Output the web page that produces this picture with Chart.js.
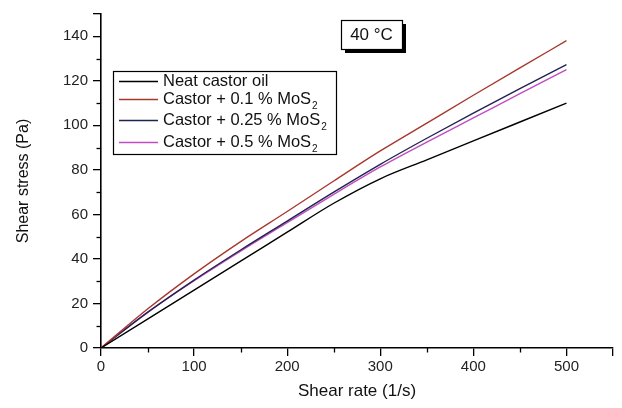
<!DOCTYPE html>
<html><head><meta charset="utf-8">
<script src="https://cdn.jsdelivr.net/npm/chart.js@4/dist/chart.umd.min.js"></script>
<style>html,body{margin:0;padding:0;background:#fff}#wrap{width:622px;height:408px}</style>
</head><body><div id="wrap"><canvas id="c" width="622" height="408"></canvas></div>
<script>
// ---- data ----
const shearRate = [0, 50, 100, 150, 200, 250, 300, 350, 400, 450, 500];
const neatCastor = [0, 13, 26, 39, 52, 65, 76, 84.5, 93, 101.5, 110];
const castor01 = [0, 17.5, 33.3, 47.8, 61.3, 75, 88.5, 101, 113.5, 125.8, 138];
const castor025 = [0, 16, 30.5, 44, 57, 70, 82.5, 94.2, 105.5, 116.5, 127.3];
const castor05 = [0, 16, 30.2, 43.5, 56.3, 69, 81.3, 92.5, 103.3, 114.2, 125];
const seriesNames = ['Neat castor oil', 'Castor + 0.1 % MoS', 'Castor + 0.25 % MoS', 'Castor + 0.5 % MoS'];
const seriesSubs = ['', '2', '2', '2'];
const seriesColors = ['#000000', '#a8382e', '#22224e', '#c04cc4'];
const xTickLabels = [0, 100, 200, 300, 400, 500];
const yTickLabels = [0, 20, 40, 60, 80, 100, 120, 140];
const xTitle = 'Shear rate (1/s)';
const yTitle = 'Shear stress (Pa)';
const tempLabel = '40 °C';

const allSeries = [neatCastor, castor01, castor025, castor05];
const FONT = '"Liberation Sans", Arial, sans-serif';

const datasets = allSeries.map((vals, i) => ({
  label: seriesNames[i] + seriesSubs[i],
  data: shearRate.map((x, j) => ({x: x, y: vals[j]})),
  borderColor: seriesColors[i],
  backgroundColor: seriesColors[i],
  borderWidth: 1.4,
  pointRadius: 0,
  cubicInterpolationMode: 'monotone',
  fill: false
}));

const extras = {
  id: 'extras',
  afterDraw(chart) {
    const ctx = chart.ctx;
    const xs = chart.scales.x, ys = chart.scales.y;
    const ca = chart.chartArea;
    ctx.save();
    // minor ticks
    ctx.strokeStyle = '#000';
    ctx.lineWidth = 1.3;
    for (let v = 10; v < 150; v += 20) {
      const py = Math.round(ys.getPixelForValue(v)) + 0.5;
      ctx.beginPath(); ctx.moveTo(ca.left - 4.5, py); ctx.lineTo(ca.left, py); ctx.stroke();
    }
    for (let v = 50; v < 550; v += 100) {
      const px = Math.round(xs.getPixelForValue(v)) + 0.5;
      ctx.beginPath(); ctx.moveTo(px, ca.bottom); ctx.lineTo(px, ca.bottom + 4.5); ctx.stroke();
    }
    // legend box
    const lx = ca.left + 12, ly = ca.top + 57, lw = 223, lh = 83;
    ctx.fillStyle = '#fff';
    ctx.fillRect(lx, ly, lw, lh);
    ctx.strokeStyle = '#000';
    ctx.lineWidth = 1.2;
    ctx.strokeRect(lx + 0.5, ly + 0.5, lw, lh);
    const rowOff = [10, 28, 49, 71];
    for (let i = 0; i < seriesNames.length; i++) {
      const ry = ly + rowOff[i];
      ctx.strokeStyle = seriesColors[i];
      ctx.lineWidth = 1.5;
      ctx.beginPath(); ctx.moveTo(lx + 6, ry + 0.5); ctx.lineTo(lx + 45, ry + 0.5); ctx.stroke();
      ctx.fillStyle = '#111';
      ctx.font = '16.5px ' + FONT;
      ctx.textBaseline = 'middle';
      ctx.textAlign = 'left';
      ctx.fillText(seriesNames[i], lx + 50, ry);
      if (seriesSubs[i]) {
        const w = ctx.measureText(seriesNames[i]).width;
        ctx.font = '10px ' + FONT;
        ctx.fillText(seriesSubs[i], lx + 50 + w + 1, ry + 7);
      }
    }
    // temperature box
    const tx = 341, ty = 20, tw = 61, th = 29;
    ctx.fillStyle = '#000';
    ctx.fillRect(tx + 4, ty + 4, tw, th);
    ctx.fillStyle = '#fff';
    ctx.fillRect(tx, ty, tw, th);
    ctx.strokeStyle = '#000';
    ctx.lineWidth = 1.2;
    ctx.strokeRect(tx + 0.5, ty + 0.5, tw, th);
    ctx.fillStyle = '#111';
    ctx.font = '17px ' + FONT;
    ctx.textAlign = 'center';
    ctx.textBaseline = 'middle';
    ctx.fillText(tempLabel, tx + tw / 2, ty + th / 2 + 1);
    ctx.restore();
  }
};

new Chart(document.getElementById('c'), {
  type: 'line',
  data: { datasets },
  options: {
    responsive: false,
    animation: false,
    layout: { padding: { top: 10, right: 9, left: 0, bottom: 0 } },
    plugins: { legend: { display: false }, tooltip: { enabled: false } },
    scales: {
      x: {
        type: 'linear', min: 0, max: 550,
        afterFit(s) { s.height = 60; },
        ticks: {
          stepSize: 100, padding: 2, color: '#222', maxRotation: 0,
          font: { size: 15, family: FONT },
          callback: (v) => xTickLabels.includes(v) ? String(v) : ''
        },
        grid: { drawOnChartArea: false, tickLength: 8, tickColor: '#000', lineWidth: 1.3 },
        border: { display: true, color: '#000', width: 1.6 },
        title: { display: true, text: xTitle, color: '#111', font: { size: 17, family: FONT }, padding: { top: 0, bottom: 6 } }
      },
      y: {
        type: 'linear', min: 0, max: 150,
        afterFit(s) { s.width = 101; },
        ticks: {
          stepSize: 20, padding: 5, color: '#222',
          font: { size: 15, family: FONT },
          callback: (v) => yTickLabels.includes(v) ? String(v) : ''
        },
        grid: { drawOnChartArea: false, tickLength: 8, tickColor: '#000', lineWidth: 1.3 },
        border: { display: true, color: '#000', width: 1.6 },
        title: { display: true, text: yTitle, color: '#111', font: { size: 16, family: FONT }, padding: { top: 14, bottom: 0 } }
      }
    }
  },
  plugins: [extras]
});
</script>
</body></html>
